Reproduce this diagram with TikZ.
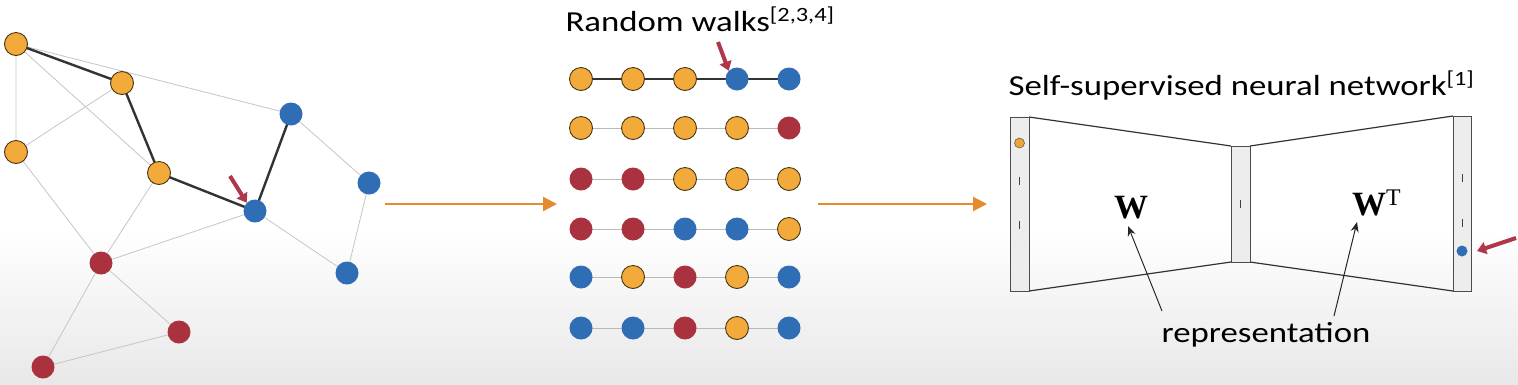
\documentclass[tikz,border=0pt]{standalone}
\usepackage[no-math]{fontspec}
\setmainfont{Carlito}[FakeStretch=1.2]
\newfontfamily\wfont{Liberation Serif}
\usetikzlibrary{arrows.meta}
\definecolor{cor}{HTML}{F2AA3A}
\definecolor{cbl}{HTML}{2F6DB5}
\definecolor{crd}{HTML}{A9323E}
\definecolor{cout}{HTML}{4A3512}
\definecolor{carr}{HTML}{E58A2E}
\definecolor{cmark}{HTML}{B0364A}
\definecolor{cbar}{HTML}{EDEDED}
\tikzset{
  gnode/.style={circle,minimum size=23pt,inner sep=0pt},
  onode/.style={gnode,fill=cor,draw=cout,line width=0.9pt},
  bnode/.style={gnode,fill=cbl},
  rnode/.style={gnode,fill=crd},
  thin edge/.style={draw=gray!45,line width=0.8pt},
  walk edge/.style={draw=black!80,line width=2.4pt},
  walk light/.style={draw=gray!55,line width=1pt},
  flow/.style={draw=carr,line width=2.2pt,-{Triangle[width=14pt,length=14pt]}},
  redmark/.style={draw=cmark,line width=4pt,-{Triangle[width=12pt,length=9pt]}},
  barbox/.style={fill=cbar,draw=black!70,line width=1pt},
  ttl/.style={font=\fontsize{29}{34}\selectfont,anchor=base west},
  tickline/.style={draw=black!75,line width=1pt},
  wlabel/.style={font=\wfont\bfseries\fontsize{34}{38}\selectfont,anchor=base west,inner sep=0pt},
}
\begin{document}
\begin{tikzpicture}[x=1pt,y=-1pt]
\shade[top color=white,bottom color=white] (0,0) rectangle (1518,230);
\shade[top color=white,bottom color=black!9] (0,230) rectangle (1518,384);
\useasboundingbox (0,0) rectangle (1518,384);

% ---------- left graph ----------
\coordinate (pA) at (16,44);
\coordinate (pB) at (122,83);
\coordinate (pC) at (16,152);
\coordinate (pD) at (159,173);
\coordinate (pE) at (291,114);
\coordinate (pF) at (369,183);
\coordinate (pG) at (255,211);
\coordinate (pH) at (347,273);
\coordinate (pI) at (101,263);
\coordinate (pJ) at (179,332);
\coordinate (pK) at (43,367);
\draw[thin edge] (pA)--(pC) (pA)--(pD) (pA)--(pE) (pB)--(pC) (pC)--(pI) (pD)--(pI)
  (pI)--(pG) (pG)--(pH) (pE)--(pF) (pF)--(pH) (pI)--(pJ) (pI)--(pK) (pK)--(pJ);
\draw[walk edge] (pA)--(pB)--(pD)--(pG)--(pE);
\node[onode] (A) at (pA) {};
\node[onode] (B) at (pB) {};
\node[onode] (C) at (pC) {};
\node[onode] (D) at (pD) {};
\node[bnode] (E) at (pE) {};
\node[bnode] (F) at (pF) {};
\node[bnode] (G) at (pG) {};
\node[bnode] (H) at (pH) {};
\node[rnode] (I) at (pI) {};
\node[rnode] (J) at (pJ) {};
\node[rnode] (K) at (pK) {};
\coordinate (m1s) at (230,176);
\draw[redmark] (m1s) -- (G.north west);

% ---------- arrows ----------
\coordinate (a1s) at (385,204);
\coordinate (a1e) at (557,204);
\draw[flow] (a1s) -- (a1e);
\coordinate (a2s) at (818,204);
\coordinate (a2e) at (987,204);
\draw[flow] (a2s) -- (a2e);

% ---------- random walks ----------
\node[ttl] (rwt) at (562,31) {Random walks\textsuperscript{[2,3,4]}};
\foreach \row/\y/\a/\b/\c/\d/\e in {
  1/79/o/o/o/b/b, 2/128/o/o/o/o/r, 3/179/r/r/o/o/o,
  4/229/r/r/b/b/o, 5/277/b/o/r/o/b, 6/328/b/b/r/o/b}{
  \ifnum\row=1
    \draw[walk edge,line width=1.8pt] (581,\y) -- (789,\y);
  \else
    \draw[walk light] (581,\y) -- (789,\y);
  \fi
  \node[\a node] (w\row-1) at (581,\y) {};
  \node[\b node] (w\row-2) at (633,\y) {};
  \node[\c node] (w\row-3) at (685,\y) {};
  \node[\d node] (w\row-4) at (737,\y) {};
  \node[\e node] (w\row-5) at (789,\y) {};
}
\coordinate (m2s) at (718,42);
\draw[redmark] (m2s) -- (w1-4.north west);

% ---------- network ----------
\node[ttl] (nnt) at (1005,95) {Self-supervised neural network\textsuperscript{[1]}};
\draw[black!80,line width=1.2pt] (1029,117) -- (1231,146) (1029,291) -- (1231,262)
  (1250,146) -- (1453,116) (1250,262) -- (1453,291);
\node[barbox,minimum width=19pt,minimum height=174pt,inner sep=0pt] (L) at (1019.5,204) {};
\node[barbox,minimum width=19pt,minimum height=116pt,inner sep=0pt] (M) at (1240.5,204) {};
\node[barbox,minimum width=18pt,minimum height=175pt,inner sep=0pt] (R) at (1462,203.5) {};
\draw[tickline] (1019.5,177)--(1019.5,185) (1019.5,221)--(1019.5,229)
  (1240.5,200)--(1240.5,208)
  (1462,174)--(1462,182) (1462,219)--(1462,227);
\node[circle,minimum size=10pt,inner sep=0pt,fill=cor!85!brown,draw=cout!80,line width=0.6pt] (lo) at (1019.5,143) {};
\node[circle,minimum size=11pt,inner sep=0pt,fill=cbl] (rb) at (1462,251) {};
\coordinate (m3s) at (1516,238);
\coordinate (m3e) at (1477,251);
\draw[redmark] (m3s) -- (m3e);
\node[wlabel] (W) at (1114,218) {W};
\node[wlabel] (WT) at (1352,215) {W\textsuperscript{\mdseries T}};
\node[font=\fontsize{29}{32}\selectfont] (rep) at (1266,335) {representation};
\coordinate (r1) at (1162,311);
\coordinate (r2) at (1334,316);
\coordinate (t1) at (1128,226);
\coordinate (t2) at (1357,222);
\draw[black!85,line width=1pt,-{Stealth[length=10pt,width=8pt]}] (r1) -- (t1);
\draw[black!85,line width=1pt,-{Stealth[length=10pt,width=8pt]}] (r2) -- (t2);
\end{tikzpicture}
\end{document}
